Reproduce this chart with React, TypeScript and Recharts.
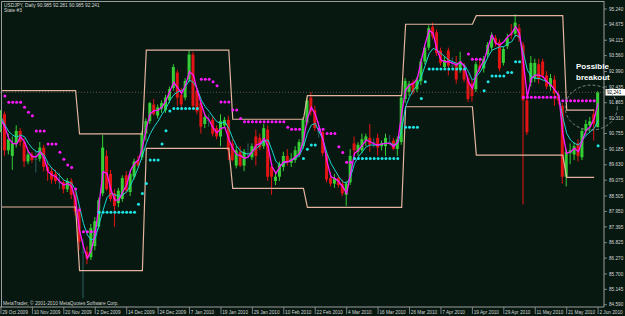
import React from 'react';
import { ComposedChart, Bar, Line, XAxis, YAxis, ReferenceLine, ReferenceDot } from 'recharts';

const dateLabels = [
  '29 Oct 2009', '10 Nov 2009', '20 Nov 2009', '2 Dec 2009', '14 Dec 2009', '24 Dec 2009',
  '7 Jan 2010', '19 Jan 2010', '29 Jan 2010', '10 Feb 2010', '22 Feb 2010', '4 Mar 2010',
  '16 Mar 2010', '26 Mar 2010', '7 Apr 2010', '19 Apr 2010', '29 Apr 2010', '11 May 2010',
  '21 May 2010', '2 Jun 2010',
];

const priceTicks = [
  95.24, 94.675, 94.115, 93.56, 92.99, 92.435, 91.865, 91.31, 90.755, 90.185,
  89.63, 89.075, 88.505, 87.95, 87.395, 86.825, 86.27, 85.7, 85.145, 84.59,
];

const opens = [
  90.90, 91.45, 90.15, 89.95, 90.40, 90.85, 90.45, 89.75, 90.00, 89.85,
  89.85, 90.25, 89.55, 89.40, 89.30, 89.00, 89.00, 88.75, 89.05, 88.55,
  87.95, 86.50, 86.50, 86.30, 86.70, 87.40, 88.60, 89.95, 89.30, 88.60,
  88.25, 88.40, 89.25, 88.65, 89.20, 89.80, 89.90, 90.75, 91.20, 91.80,
  91.40, 91.65, 91.60, 91.95, 92.40, 92.95, 92.15, 92.05, 92.70, 93.60,
  92.30, 91.85, 91.10, 91.25, 91.25, 90.95, 90.65, 91.05, 91.25, 90.40,
  89.60, 90.10, 89.60, 90.00, 89.90, 90.65, 90.60, 90.30, 90.90, 89.55,
  89.05, 89.20, 89.55, 89.95, 89.70, 89.80, 90.00, 90.30, 91.15, 92.05,
  91.60, 90.85, 90.80, 90.00, 89.15, 88.95, 89.15, 88.95, 88.55, 89.00,
  90.40, 90.10, 90.15, 90.50, 90.60, 90.45, 90.60, 90.30, 90.30, 90.45,
  90.50, 90.20, 90.45, 92.00, 92.25, 92.60, 92.35, 92.65, 93.35, 93.85,
  94.60, 94.40, 93.75, 93.15, 93.75, 93.20, 93.30, 93.05, 93.10, 92.75,
  92.55, 92.35, 93.20, 93.10, 93.60, 93.85, 94.20, 94.05, 93.30, 93.90,
  94.35, 94.35, 94.55, 93.95, 91.95, 92.60, 92.75, 93.25, 93.35, 92.85,
  92.45, 92.70, 92.15, 91.75, 89.20, 90.05, 90.00, 90.40, 89.90, 90.85,
  91.05, 91.45, 90.985,
];

const highs = [
  91.60, 91.55, 90.75, 90.65, 91.05, 90.95, 90.60, 90.15, 90.10, 90.15,
  90.45, 90.35, 89.75, 89.55, 89.45, 89.35, 89.10, 89.15, 89.15, 88.70,
  88.15, 86.95, 86.70, 87.50, 87.75, 88.45, 90.70, 90.15, 89.45, 88.75,
  88.80, 89.25, 89.40, 89.40, 89.85, 89.95, 90.85, 91.30, 91.90, 92.00,
  91.80, 91.95, 92.15, 92.45, 93.25, 93.05, 92.40, 92.75, 93.75, 93.70,
  92.40, 91.95, 91.45, 91.45, 91.35, 91.05, 91.45, 91.35, 91.40, 90.55,
  90.30, 90.30, 90.20, 90.40, 90.40, 90.90, 90.75, 91.10, 91.05, 89.65,
  89.35, 89.75, 90.10, 90.20, 90.05, 90.30, 90.55, 91.35, 92.05, 92.25,
  91.75, 91.20, 90.90, 90.10, 89.35, 89.30, 89.25, 89.10, 89.05, 90.20,
  90.65, 90.45, 90.75, 90.75, 91.10, 90.60, 90.75, 90.50, 90.75, 90.70,
  90.60, 90.65, 92.15, 92.75, 92.65, 92.70, 92.80, 93.45, 93.95, 94.65,
  94.75, 94.50, 93.85, 93.55, 93.85, 93.50, 93.55, 93.70, 93.30, 92.85,
  92.70, 93.35, 93.40, 93.55, 94.05, 94.40, 94.30, 94.15, 93.90, 94.35,
  94.70, 95.05, 94.70, 94.05, 92.20, 93.55, 93.45, 93.45, 93.45, 93.00,
  92.90, 92.85, 92.30, 91.85, 90.20, 90.40, 90.45, 90.55, 90.95, 91.25,
  91.35, 91.65, 92.281,
];

const lows = [
  90.80, 89.95, 90.00, 89.45, 90.25, 90.30, 89.55, 89.65, 89.70, 89.35,
  89.75, 89.40, 89.05, 88.95, 88.95, 88.75, 88.60, 88.65, 88.40, 87.80,
  86.55, 84.82, 86.05, 86.20, 86.55, 87.30, 88.50, 88.70, 88.30, 87.40,
  88.10, 88.30, 88.60, 88.50, 89.10, 89.55, 89.80, 90.50, 91.10, 91.40,
  91.30, 91.50, 91.50, 91.85, 92.30, 91.75, 91.60, 91.95, 92.60, 91.65,
  91.45, 90.75, 90.95, 91.00, 90.65, 90.55, 90.30, 90.95, 89.80, 89.75,
  89.50, 89.55, 89.40, 89.85, 89.80, 89.60, 90.15, 90.20, 89.05, 88.55,
  88.90, 89.05, 89.40, 89.60, 89.55, 89.70, 89.90, 90.20, 91.05, 91.40,
  90.85, 90.60, 89.95, 89.00, 88.85, 88.80, 88.80, 88.50, 88.15, 88.90,
  89.95, 89.95, 90.05, 90.30, 90.10, 90.25, 89.95, 90.15, 89.95, 90.35,
  90.15, 89.95, 90.35, 91.85, 92.10, 92.15, 92.25, 92.50, 93.25, 93.75,
  94.15, 93.55, 93.20, 93.05, 92.85, 93.10, 92.55, 92.95, 92.60, 91.90,
  91.90, 92.25, 92.95, 92.95, 93.50, 93.75, 93.90, 93.00, 93.20, 93.80,
  94.15, 94.25, 94.05, 88.20, 90.70, 92.45, 92.60, 92.55, 92.75, 92.35,
  92.30, 91.75, 91.80, 88.95, 88.85, 89.65, 89.80, 89.75, 89.80, 90.70,
  90.80, 90.50, 90.985,
];

const closes = [
  91.45, 90.15, 90.55, 90.40, 90.85, 90.45, 89.75, 90.00, 89.80, 89.85,
  90.25, 89.55, 89.40, 89.10, 89.05, 89.00, 88.75, 89.05, 88.55, 87.95,
  86.85, 86.50, 86.25, 87.35, 87.60, 88.35, 90.25, 88.75, 88.40, 88.15,
  88.70, 89.15, 88.70, 89.30, 89.75, 89.60, 90.75, 91.20, 91.85, 91.45,
  91.70, 91.85, 92.05, 92.35, 93.15, 92.05, 91.80, 92.65, 93.60, 91.75,
  91.55, 91.00, 91.35, 91.25, 90.75, 90.65, 91.20, 91.25, 90.15, 89.80,
  90.15, 89.60, 90.10, 90.00, 90.30, 89.95, 90.25, 90.95, 89.20, 89.20,
  89.20, 89.65, 89.95, 89.70, 89.85, 90.15, 90.45, 91.25, 91.95, 91.55,
  90.95, 90.85, 90.05, 89.10, 88.95, 89.15, 88.90, 88.60, 88.95, 89.95,
  90.15, 90.35, 90.55, 90.65, 90.35, 90.45, 90.25, 90.40, 90.60, 90.45,
  90.20, 90.55, 92.05, 92.65, 92.55, 92.25, 92.70, 93.35, 93.85, 94.55,
  94.25, 93.65, 93.30, 93.40, 93.20, 93.20, 92.70, 93.35, 92.70, 92.00,
  92.10, 93.25, 93.10, 93.45, 93.95, 94.30, 94.00, 93.10, 93.80, 94.20,
  94.30, 94.75, 94.20, 91.95, 90.80, 93.30, 93.30, 92.70, 92.85, 92.45,
  92.75, 92.20, 91.95, 89.20, 90.10, 90.15, 90.30, 89.95, 90.85, 91.10,
  91.20, 91.10, 92.241,
];

const fastMA = [
  91.24, 91.00, 90.58, 90.40, 90.38, 90.64, 90.46, 90.10, 89.92, 89.92,
  90.10, 89.86, 89.38, 89.26, 89.20, 89.02, 88.90, 88.96, 88.84, 88.36,
  87.28, 86.68, 86.26, 86.56, 87.16, 88.24, 89.38, 89.32, 88.72, 88.36,
  88.36, 88.66, 88.90, 89.44, 89.68, 89.80, 90.25, 90.95, 91.48, 91.58,
  91.60, 91.70, 91.95, 92.28, 92.60, 92.40, 92.20, 92.50, 92.98, 92.85,
  92.30, 91.80, 91.40, 91.24, 90.96, 90.78, 90.94, 90.98, 90.55, 90.22,
  90.00, 89.96, 89.86, 89.92, 90.10, 90.34, 90.40, 90.58, 90.28, 89.56,
  89.32, 89.56, 89.74, 89.74, 89.80, 89.92, 90.04, 90.52, 91.30, 91.70,
  91.45, 91.00, 90.52, 89.74, 89.20, 89.14, 89.02, 88.84, 88.60, 89.32,
  90.04, 90.16, 90.34, 90.52, 90.46, 90.38, 90.34, 90.38, 90.40, 90.40,
  90.28, 90.46, 91.48, 92.32, 92.50, 92.56, 92.74, 93.40, 94.00, 94.48,
  94.36, 93.76, 93.40, 93.34, 93.34, 93.28, 93.22, 93.34, 93.16, 92.62,
  92.38, 92.86, 93.16, 93.40, 93.88, 94.30, 94.00, 93.94, 94.06, 94.24,
  94.36, 94.60, 94.36, 93.28, 92.08, 92.74, 92.86, 92.86, 92.80, 92.62,
  92.50, 92.32, 92.14, 90.76, 90.04, 90.10, 90.22, 90.10, 90.52, 90.88,
  91.00, 91.30, 91.84,
];

const slowMA = [
  91.36, 91.06, 90.82, 90.70, 90.62, 90.70, 90.64, 90.40, 90.22, 90.10,
  90.10, 89.98, 89.68, 89.50, 89.38, 89.23, 89.08, 89.02, 88.96, 88.72,
  88.12, 87.52, 87.10, 86.92, 86.98, 87.50, 88.00, 88.45, 88.60, 88.55,
  88.50, 88.55, 88.65, 88.90, 89.20, 89.55, 89.95, 90.40, 90.75, 91.00,
  91.20, 91.45, 91.66, 91.95, 92.15, 92.26, 92.30, 92.45, 92.68, 92.60,
  92.35, 91.96, 91.72, 91.55, 91.35, 91.18, 91.12, 91.18, 90.94, 90.58,
  90.30, 90.12, 90.04, 90.02, 90.10, 90.22, 90.34, 90.50, 90.52, 90.15,
  89.75, 89.62, 89.68, 89.74, 89.80, 89.86, 89.98, 90.28, 90.76, 91.06,
  91.12, 90.82, 90.52, 90.04, 89.68, 89.44, 89.20, 89.02, 88.96, 89.20,
  89.68, 89.92, 90.10, 90.28, 90.34, 90.34, 90.34, 90.38, 90.40, 90.40,
  90.36, 90.40, 90.88, 91.72, 92.08, 92.32, 92.50, 92.80, 93.22, 93.64,
  93.82, 93.76, 93.64, 93.52, 93.40, 93.34, 93.28, 93.28, 93.22, 92.98,
  92.68, 92.80, 92.98, 93.22, 93.52, 93.76, 93.82, 93.88, 93.88, 94.00,
  94.06, 94.30, 94.24, 93.64, 93.04, 92.80, 92.74, 92.74, 92.68, 92.62,
  92.50, 92.32, 92.08, 91.36, 90.76, 90.52, 90.40, 90.34, 90.52, 90.70,
  90.82, 90.94, 91.24,
];

// [first bar, last bar, level]
const upperBox = [
  [0, 19, 92.30], [20, 36, 90.74], [37, 58, 93.76], [59, 77, 91.27],
  [78, 102, 92.12], [103, 120, 94.69], [121, 143, 95.00], [144, 151, 91.60],
];
const lowerBox = [
  [0, 19, 88.11], [20, 36, 85.82], [37, 58, 90.22], [59, 77, 88.78],
  [78, 102, 88.10], [103, 120, 91.72], [121, 143, 89.98], [144, 151, 89.18],
];
const pinkStops = [
  [1, 1, 92.11], [2, 5, 91.88], [6, 6, 91.70], [7, 7, 91.52], [8, 8, 91.40],
  [9, 11, 90.85], [12, 14, 90.38], [15, 15, 90.08], [16, 16, 89.83], [17, 17, 89.62],
  [18, 18, 89.53], [19, 19, 88.76], [20, 20, 88.00], [21, 24, 87.22],
  [51, 53, 92.71], [54, 54, 92.62], [55, 55, 92.48], [56, 58, 91.89], [59, 60, 91.60],
  [61, 61, 91.30], [62, 72, 91.18], [73, 73, 90.98], [74, 76, 90.91], [81, 82, 90.91],
  [83, 85, 90.76], [86, 86, 90.28], [87, 87, 90.07], [88, 89, 89.72],
  [119, 119, 93.62], [120, 122, 93.43], [133, 141, 92.06], [143, 151, 91.94],
];
const cyanStops = [
  [25, 34, 87.92], [35, 35, 88.21], [36, 36, 88.60], [37, 37, 88.96], [38, 40, 89.80],
  [41, 41, 90.38], [42, 42, 90.86], [43, 43, 91.57], [44, 50, 91.66],
  [77, 77, 89.86], [78, 78, 90.19], [79, 80, 90.34], [90, 101, 89.86],
  [103, 106, 90.98], [107, 107, 92.02], [108, 108, 92.62], [109, 118, 93.08],
  [123, 123, 92.30], [124, 124, 92.62], [125, 128, 92.83], [129, 130, 92.95],
  [131, 132, 93.34], [152, 152, 90.32],
];

const lastQuote = 92.241;
const BAR_COUNT = 154;

const expand = (segs: number[][]) => {
  const arr: (number | null)[] = new Array(BAR_COUNT).fill(null);
  segs.forEach(([a, b, v]) => {
    for (let k = a; k <= b; k++) arr[k] = v;
  });
  return arr;
};
const upArr = expand(upperBox);
const loArr = expand(lowerBox);
const pinkArr = expand(pinkStops);
const cyanArr = expand(cyanStops);

const data = Array.from({ length: BAR_COUNT }, (_, i) => ({
  i,
  o: i < opens.length ? opens[i] : null,
  h: i < highs.length ? highs[i] : null,
  l: i < lows.length ? lows[i] : null,
  c: i < closes.length ? closes[i] : null,
  m: i < fastMA.length ? fastMA[i] : null,
  s: i < slowMA.length ? slowMA[i] : null,
  up: upArr[i],
  lo: loArr[i],
  pd: pinkArr[i],
  cd: cyanArr[i],
}));

const tickIdx = dateLabels.map((_, k) => k * 8);

const GREEN = '#36CF36';
const RED = '#E31414';
const DOJI = '#2F5E5E';
const FRAME = '#9C9C9C';
const TXT = '#D6D6D6';
const FONT = 'Liberation Sans, Arial, sans-serif';

const Candle = (props: any) => {
  const { x, y, width, height, payload } = props;
  if (!payload || payload.o == null || typeof y !== 'number' || typeof height !== 'number') return null;
  const top = Math.min(y, y + height);
  const bottom = Math.max(y, y + height);
  const span = payload.h - payload.l || 1;
  const k = (bottom - top) / span;
  const yo = top + (payload.h - payload.o) * k;
  const yc = top + (payload.h - payload.c) * k;
  const color = payload.c > payload.o ? GREEN : payload.c < payload.o ? RED : DOJI;
  const cx = x + width / 2;
  const bt = Math.min(yo, yc);
  const bh = Math.max(1, Math.abs(yo - yc));
  return (
    <g>
      <line x1={cx} x2={cx} y1={top} y2={bottom} stroke={color} strokeWidth={1} />
      <rect x={cx - 1.5} y={bt} width={3} height={bh} fill={color} />
    </g>
  );
};

const DateTick = (props: any) => {
  const { x, y, payload } = props;
  const label = dateLabels[Math.round(payload.value / 8)];
  return (
    <g>
      <line x1={x} x2={x} y1={y} y2={y + 7} stroke={FRAME} strokeWidth={0.8} />
      <text x={x + 1.3} y={y + 6.6} fontSize={4.7} fill={TXT} fontFamily={FONT} textAnchor="start">
        {label}
      </text>
    </g>
  );
};

const PriceTick = (props: any) => {
  const { x, y, payload } = props;
  return (
    <text x={x} y={y + 1.7} fontSize={4.7} fill={TXT} fontFamily={FONT} textAnchor="start">
      {Number(payload.value).toFixed(3)}
    </text>
  );
};

const BidTag = (props: any) => {
  const vb = props.viewBox || {};
  const xr = (vb.x || 0) + (vb.width || 0);
  const yy = vb.y || 0;
  return (
    <g>
      <rect x={xr + 1.5} y={yy - 3.3} width={19.5} height={6.6} fill="#FFFFFF" />
      <text x={xr + 3} y={yy + 1.7} fontSize={4.7} fill="#000000" fontFamily={FONT}>
        {lastQuote.toFixed(3)}
      </text>
    </g>
  );
};

const Ellipse = (props: any) => {
  const { cx, cy } = props;
  if (typeof cx !== 'number' || typeof cy !== 'number') return null;
  return <ellipse cx={cx + 1} cy={cy} rx={26} ry={22.5} fill="none" stroke="#8E8E8E" strokeWidth={0.9} strokeDasharray="3 2" />;
};

export default function App() {
  return (
    <div style={{ position: 'absolute', left: 0, top: 0, width: 625, height: 316, background: '#061810', overflow: 'hidden' }}>
      <ComposedChart
        width={625}
        height={316}
        data={data}
        margin={{ top: 1, right: 0, bottom: 0, left: -1 }}
      >
        <XAxis
          dataKey="i"
          type="category"
          ticks={tickIdx}
          interval={0}
          height={9}
          tickSize={0}
          tickMargin={0}
          tickLine={false}
          axisLine={{ stroke: FRAME, strokeWidth: 1 }}
          tick={(p: any) => <DateTick {...p} />}
        />
        <YAxis
          orientation="right"
          type="number"
          domain={[84.509, 95.528]}
          allowDataOverflow
          ticks={priceTicks}
          interval={0}
          width={21}
          tickSize={3}
          tickMargin={2}
          tickLine={{ stroke: FRAME, strokeWidth: 0.8 }}
          axisLine={{ stroke: FRAME, strokeWidth: 1 }}
          tick={(p: any) => <PriceTick {...p} />}
        />
        <ReferenceLine
          y={lastQuote}
          stroke="#6E5B4B"
          strokeWidth={0.9}
          strokeDasharray="1 2"
          label={(p: any) => <BidTag {...p} />}
        />
        <Line dataKey="up" type="linear" stroke="#E4B49E" strokeWidth={1.2} dot={false} activeDot={false} isAnimationActive={false} />
        <Line dataKey="lo" type="linear" stroke="#E4B49E" strokeWidth={1.2} dot={false} activeDot={false} isAnimationActive={false} />
        <Bar
          dataKey={(d: any) => (d.o == null ? null : [d.l, d.h])}
          barSize={3}
          shape={(p: any) => <Candle {...p} />}
          isAnimationActive={false}
        />
        <Line dataKey="s" type="linear" stroke="#1CD4D4" strokeWidth={1} dot={false} activeDot={false} isAnimationActive={false} />
        <Line dataKey="m" type="linear" stroke="#FF19FF" strokeWidth={1.3} dot={false} activeDot={false} isAnimationActive={false} />
        <Line dataKey="pd" type="linear" stroke="none" strokeWidth={0} dot={{ r: 1.5, fill: '#FF19FF', stroke: 'none' }} activeDot={false} isAnimationActive={false} />
        <Line dataKey="cd" type="linear" stroke="none" strokeWidth={0} dot={{ r: 1.5, fill: '#1FE6E6', stroke: 'none' }} activeDot={false} isAnimationActive={false} />
        <ReferenceDot x={150} y={91.69} r={0} shape={(p: any) => <Ellipse {...p} />} />
      </ComposedChart>
      <svg width={625} height={316} style={{ position: 'absolute', left: 0, top: 0, pointerEvents: 'none' }}>
        <path d="M1.5 307 V1.5 H604" fill="none" stroke={FRAME} strokeWidth={1} />
        <text x={4} y={6.8} fontSize={4.8} fill={TXT} fontFamily={FONT}>USDJPY, Daily  90.985 92.281 90.985 92.241</text>
        <text x={4} y={12.2} fontSize={4.8} fill={TXT} fontFamily={FONT}>State #3</text>
        <text x={3} y={305} fontSize={4.8} fill={TXT} fontFamily={FONT}>MetaTrader, © 2001-2010 MetaQuotes Software Corp.</text>
        <text x={576} y={69} fontSize={8} fontWeight="bold" fill="#FFFFFF" fontFamily={FONT}>Possible</text>
        <text x={576} y={80} fontSize={8} fontWeight="bold" fill="#FFFFFF" fontFamily={FONT}>breakout</text>
      </svg>
    </div>
  );
}
